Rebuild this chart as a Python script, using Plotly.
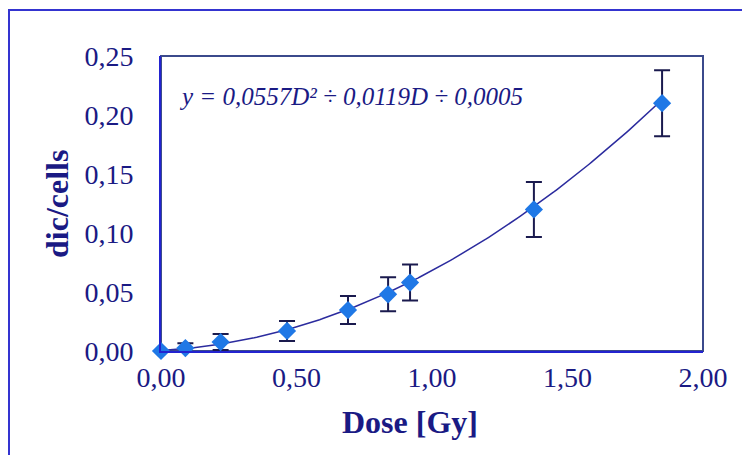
import plotly.graph_objects as go
import numpy as np

dose = [0.00, 0.09, 0.22, 0.465, 0.69, 0.838, 0.919, 1.376, 1.849]
dic_cells = [0.000, 0.0025, 0.0076, 0.017, 0.0347, 0.048, 0.058, 0.120, 0.210]
err = [0.000, 0.004, 0.0068, 0.0085, 0.0119, 0.0144, 0.0153, 0.0233, 0.028]

fit_a, fit_b, fit_c = 0.0557, 0.0119, 0.0005
fit_label = "y = 0,0557D² ÷ 0,0119D ÷ 0,0005"

x_ticks = [0, 0.5, 1.0, 1.5, 2.0]
y_ticks = [0, 0.05, 0.10, 0.15, 0.20, 0.25]

navy = "#1a1a84"
font_family = "Liberation Serif"

xs = np.linspace(0, max(dose), 200)
ys = fit_a * xs**2 + fit_b * xs + fit_c

fig = go.Figure()
fig.add_trace(go.Scatter(x=xs, y=ys, mode="lines",
                         line=dict(color="#2b2b9e", width=1.5),
                         hoverinfo="skip", showlegend=False))
fig.add_trace(go.Scatter(x=dose, y=dic_cells, mode="markers",
                         marker=dict(symbol="diamond", size=14, color="#1f78e6",
                                     line=dict(width=0)),
                         error_y=dict(type="data", array=err, visible=True,
                                      color="#1a1a4e", thickness=2, width=8),
                         showlegend=False, cliponaxis=False))

# page offset (body margin) = 8px
OFF = 8
W, H = 750, 455
pl, pr, pt, pb = 161, 703, 56, 351  # plot area in page pixels
L = pl - OFF
T = pt - OFF
pw, ph = pr - pl, pb - pt
R = W - L - pw
B = H - T - ph

def px(xp):
    return (xp - pl) / pw

def py(yp):
    return (pb - yp) / ph

fig.update_layout(
    width=W, height=H,
    margin=dict(l=L, r=R, t=T, b=B),
    paper_bgcolor="white", plot_bgcolor="white",
    separators=",.",
    font=dict(family=font_family, color=navy),
    xaxis=dict(range=[0, 2.0], tickvals=x_ticks, tickformat=".2f",
               showgrid=False, zeroline=False, showline=True,
               linecolor="#2323d0", linewidth=2, ticks="",
               tickfont=dict(size=28, color=navy, family=font_family),
               ticklabelstandoff=0),
    yaxis=dict(range=[0, 0.25], tickvals=y_ticks, tickformat=".2f",
               showgrid=False, zeroline=False, showline=True,
               linecolor="#2323d0", linewidth=2, ticks="",
               tickfont=dict(size=28, color=navy, family=font_family),
               ticklabelstandoff=20),
    shapes=[
        dict(type="rect", xref="paper", yref="paper", x0=0, x1=1, y0=0, y1=1,
             line=dict(color="#3b4a8c", width=2), layer="below"),
        dict(type="rect", xref="paper", yref="paper",
             x0=px(9), x1=px(770), y0=py(10), y1=py(480),
             line=dict(color="#3434d0", width=2), layer="below"),
    ],
    annotations=[
        dict(text="<b>Dose [Gy]</b>", xref="paper", yref="paper",
             x=px(410), y=py(422), xanchor="center", yanchor="middle",
             showarrow=False,
             font=dict(size=32, color=navy, family=font_family)),
        dict(text="<b>dic/cells</b>", xref="paper", yref="paper",
             x=px(57), y=py(204), xanchor="center", yanchor="middle",
             showarrow=False, textangle=-90,
             font=dict(size=32, color=navy, family=font_family)),
        dict(text="<i>" + fit_label + "</i>", xref="paper", yref="paper",
             x=px(177), y=py(96), xanchor="left", yanchor="middle",
             showarrow=False,
             font=dict(size=25, color=navy, family=font_family)),
    ],
)

fig.write_html("out.html")
